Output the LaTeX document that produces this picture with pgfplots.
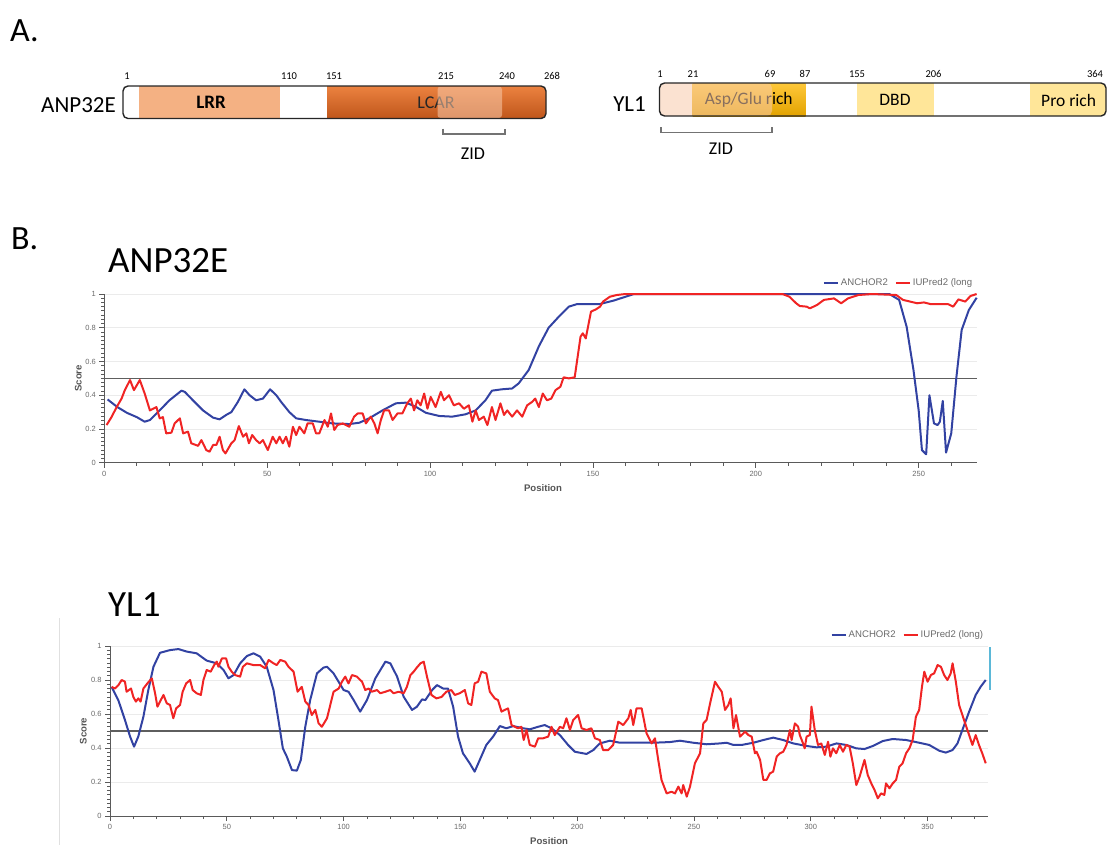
\documentclass[border=0pt]{standalone}
\usepackage{fontspec}
\setmainfont{Carlito}
\newfontfamily\arial{Liberation Sans}
\usepackage{pgfplots}
\pgfplotsset{compat=1.18}

\definecolor{ablue}{HTML}{3242A2}
\definecolor{ared}{HTML}{F02424}
\definecolor{lrr}{HTML}{F4B183}
\definecolor{lcartop}{HTML}{EC8240}
\definecolor{lcarbot}{HTML}{BF561B}
\definecolor{zidov}{HTML}{F8CBAD}
\definecolor{goldtop}{HTML}{FFC83A}
\definecolor{goldbot}{HTML}{E2A300}
\definecolor{dbd}{HTML}{FFE699}
\definecolor{tickgray}{HTML}{6A6A6A}
\definecolor{labgray}{HTML}{555555}
\definecolor{axgray}{HTML}{5A5A5A}
\definecolor{gridgray}{HTML}{EBEBEB}
\definecolor{threshold}{HTML}{5E5E5E}
\definecolor{cyanbar}{HTML}{5BB8D8}

\pgfplotsset{
 idp/.style={
  scale only axis, clip=false,
  axis lines=left, axis line style={-, draw=axgray, line width=1pt},
  ymin=0, ymax=1, xmin=0,
  ytick={0,0.2,0.4,0.6,0.8,1},
  minor y tick num=7,
  tick align=outside, major tick length=5pt, minor tick length=3pt,
  every tick/.style={draw=axgray, line width=0.8pt},
  ymajorgrids, major grid style={draw=gridgray, line width=0.8pt},
  tick label style={font=\arial\fontsize{7.5}{9}\selectfont, text=tickgray},
  /pgf/number format/assume math mode=true,
  xlabel={Position}, ylabel={Score},
  label style={font=\arial\bfseries\fontsize{9.6}{11}\selectfont, text=labgray},
  legend style={draw=none, fill=none, legend columns=-1,
    font=\arial\fontsize{9.6}{11}\selectfont, text=tickgray,
    anchor=south east, at={(axis description cs:1,1)}, yshift=3pt,
    /tikz/every even column/.append style={column sep=5pt}},
  legend image code/.code={\draw[#1] (0pt,0pt) -- (14pt,0pt);},
 },
 anchorline/.style={draw=ablue, line width=2pt, line join=round},
 iupredline/.style={draw=ared, line width=2pt, line join=round},
}

\begin{document}
\begin{tikzpicture}
\path[use as bounding box] (0pt,0pt) rectangle (1110pt,-845pt);

% ---------------- Part A and titles (pixel-like coordinates) ----------------
\begin{axis}[at={(0pt,0pt)}, anchor=north west, scale only axis,
  width=1110pt, height=845pt, xmin=0, xmax=1110, ymin=0, ymax=845,
  y dir=reverse, hide axis, clip=false]

\node[anchor=base west, inner sep=0pt, font=\fontsize{34}{40}\selectfont] at (axis cs:10,41) {A.};
\node[anchor=base west, inner sep=0pt, font=\fontsize{34}{40}\selectfont] at (axis cs:11,249) {B.};
\node[anchor=base west, inner sep=0pt, font=\fontsize{37}{44}\selectfont] at (axis cs:108,272.5) {ANP32E};
\node[anchor=base west, inner sep=0pt, font=\fontsize{37}{44}\selectfont] at (axis cs:108,616.5) {YL1};

% ---- ANP32E domain diagram ----
\node[anchor=base east, inner sep=0pt, font=\fontsize{23}{27}\selectfont] at (axis cs:116,112.5) {ANP32E};
\addplot[draw=none, fill=white] coordinates {(123,86) (546,86) (546,118.5) (123,118.5)} -- cycle;
\addplot[draw=none, fill=lrr] coordinates {(139,86) (280,86) (280,118.5) (139,118.5)} -- cycle;
\addplot[draw=none, top color=lcartop, bottom color=lcarbot, rounded corners=5pt] coordinates {(327,86) (546,86) (546,118.5) (327,118.5)} -- cycle;
\addplot[draw=none, top color=lcartop, bottom color=lcarbot] coordinates {(327,86) (500,86) (500,118.5) (327,118.5)} -- cycle;
\node[inner sep=0pt, font=\bfseries\fontsize{19}{22}\selectfont] at (axis cs:211,102.5) {LRR};
\node[inner sep=0pt, font=\fontsize{18}{22}\selectfont, text=black!85] at (axis cs:436,102.5) {LCAR};
\addplot[draw=none, fill=zidov, fill opacity=0.55, rounded corners=3pt] coordinates {(437.5,86.5) (502,86.5) (502,118) (437.5,118)} -- cycle;
\addplot[draw=black!85, line width=1.4pt, rounded corners=5pt] coordinates {(123,86) (546,86) (546,118.5) (123,118.5)} -- cycle;
\foreach \p/\t in {127/1, 289/110, 334/151, 446/215, 507/240, 552/268}{
  \edef\temp{\noexpand\node[inner sep=0pt, font=\noexpand\fontsize{10.5}{12}\noexpand\selectfont] at (axis cs:\p,75.7) {\t};}
  \temp
}
\addplot[draw=black!55, line width=1.1pt] coordinates {(443,128.5) (443,134) (505,134) (505,128.5)};
\node[inner sep=0pt, font=\fontsize{18}{22}\selectfont] at (axis cs:473,153.6) {ZID};

% ---- YL1 domain diagram ----
\node[anchor=base east, inner sep=0pt, font=\fontsize{23}{27}\selectfont] at (axis cs:646,111.5) {YL1};
\addplot[draw=none, fill=white] coordinates {(659.5,83) (1106,83) (1106,116) (659.5,116)} -- cycle;
\addplot[draw=none, top color=goldtop, bottom color=goldbot] coordinates {(692.6,83) (805.5,83) (805.5,116) (692.6,116)} -- cycle;
\addplot[draw=none, fill=dbd] coordinates {(857.4,83) (933.5,83) (933.5,116) (857.4,116)} -- cycle;
\addplot[draw=none, fill=dbd, rounded corners=5pt] coordinates {(1030,83) (1106,83) (1106,116) (1030,116)} -- cycle;
\addplot[draw=none, fill=dbd] coordinates {(1030,83) (1080,83) (1080,116) (1030,116)} -- cycle;
\node[inner sep=0pt, font=\fontsize{17.5}{21}\selectfont] at (axis cs:748.7,100) {Asp/Glu rich};
\node[inner sep=0pt, font=\fontsize{17.5}{21}\selectfont] at (axis cs:895,100) {DBD};
\node[inner sep=0pt, font=\fontsize{17.5}{21}\selectfont] at (axis cs:1068.6,100) {Pro rich};
\addplot[draw=none, fill=zidov, fill opacity=0.55, rounded corners=5pt] coordinates {(659.5,83) (772,83) (772,116) (659.5,116)} -- cycle;
\addplot[draw=black!85, line width=1.4pt, rounded corners=5pt] coordinates {(659.5,83) (1106,83) (1106,116) (659.5,116)} -- cycle;
\foreach \p/\t in {660/1, 693/21, 770/69, 805/87, 857/155, 933.5/206, 1095/364}{
  \edef\temp{\noexpand\node[inner sep=0pt, font=\noexpand\fontsize{10.5}{12}\noexpand\selectfont] at (axis cs:\p,73.7) {\t};}
  \temp
}
\addplot[draw=black!55, line width=1.1pt] coordinates {(661,127) (661,132.6) (772,132.6) (772,127)};
\node[inner sep=0pt, font=\fontsize{18}{22}\selectfont] at (axis cs:721,149) {ZID};

% ---- screenshot artefacts around the YL1 plot ----
\addplot[draw=black!12, line width=0.8pt] coordinates {(59,618) (59,845)};
\addplot[draw=cyanbar, line width=2pt] coordinates {(989.5,647) (989.5,690)};
\end{axis}

% ---------------- B: ANP32E ----------------
\begin{axis}[idp, at={(104.3pt,-462.7pt)}, anchor=south west,
  width=873pt, height=168.7pt, xmax=268,
  xtick={0,50,100,150,200,250}, minor xtick={10,20,30,40,60,70,80,90,110,120,130,140,160,170,180,190,210,220,230,240,260},
  ylabel style={at={(axis description cs:-0.0298,0.5)}, anchor=center},
  xlabel style={at={(axis description cs:0.5025,-0.148)}, anchor=center}]
\addplot[draw=threshold, line width=1.3pt, forget plot] coordinates {(0,0.5) (268,0.5)};
\addplot[anchorline] coordinates {
(1,0.375) (4,0.33) (7,0.295) (10,0.27) (12.4,0.243) (14,0.253) (17,0.31) (20,0.37) (23.7,0.427) (24.7,0.42) (27.2,0.37) (30.3,0.31) (33.4,0.267) (35.4,0.257) (37.4,0.283) (39,0.30) (41,0.36) (43,0.435) (44.6,0.40) (46.6,0.37) (48.7,0.38) (50.9,0.435) (52.8,0.40) (54.3,0.36) (56.8,0.30) (58.9,0.263) (61.9,0.253) (66,0.243) (70,0.233) (75.2,0.229) (78.3,0.237) (81.3,0.263) (85.4,0.31) (89.5,0.352) (92.6,0.356) (95.6,0.332) (98.7,0.296) (102.8,0.277) (106.8,0.273) (110.9,0.287) (114,0.31) (117,0.37) (119,0.427) (122,0.435) (125.2,0.44) (127.2,0.47) (130.3,0.55) (133.4,0.69) (136.4,0.80) (139.5,0.865) (142.6,0.925) (145.1,0.94) (147.8,0.94) (152,0.94) (156.2,0.96) (159.4,0.98) (162.6,1.0) (241,1.0) (244,0.965) (246.3,0.806) (248.4,0.55) (250,0.31) (251,0.075) (252.3,0.05) (253.3,0.40) (254.7,0.233) (255.8,0.223) (256.5,0.243) (257.4,0.366) (258.4,0.06) (260,0.174) (261.6,0.51) (263.2,0.787) (265.4,0.905) (267.8,0.978)
};
\addlegendentry{ANCHOR2}
\addplot[iupredline] coordinates {
(0.7,0.223) (2.2,0.27) (3.8,0.33) (5.3,0.38) (6.3,0.43) (7.9,0.49) (9.1,0.43) (10.9,0.49) (12.4,0.41) (14,0.31) (16,0.33) (17,0.263) (18,0.27) (19,0.174) (20.6,0.178) (21.6,0.233) (23.2,0.263) (24.2,0.174) (25.7,0.184) (26.7,0.115) (28.8,0.10) (29.8,0.134) (31.3,0.075) (32.3,0.065) (33.4,0.105) (34.4,0.105) (35.4,0.154) (36.4,0.075) (37.2,0.055) (39,0.115) (40,0.134) (41.3,0.217) (42.6,0.154) (43.6,0.174) (44.4,0.115) (45.4,0.164) (46.6,0.134) (47.7,0.115) (48.7,0.134) (50.2,0.075) (51.7,0.154) (52.8,0.115) (53.8,0.154) (54.8,0.115) (55.8,0.154) (56.8,0.095) (57.9,0.213) (58.9,0.164) (59.9,0.213) (61.4,0.174) (62.4,0.233) (64,0.233) (65,0.174) (66,0.174) (67.6,0.253) (68.6,0.213) (69.6,0.292) (70.6,0.194) (71.6,0.223) (73.2,0.233) (75.2,0.213) (76.7,0.273) (77.8,0.292) (79.3,0.292) (80.3,0.233) (81.8,0.273) (82.9,0.233) (83.9,0.174) (84.9,0.253) (85.9,0.31) (87.4,0.31) (88.5,0.253) (90,0.292) (91.5,0.292) (93,0.352) (94.1,0.38) (95.1,0.31) (96.1,0.37) (97.1,0.34) (98.2,0.41) (99.2,0.32) (100.2,0.39) (101.7,0.33) (103.3,0.42) (104.3,0.37) (105.8,0.40) (107.3,0.34) (108.9,0.352) (110.4,0.32) (111.9,0.34) (113,0.243) (114,0.31) (115,0.253) (116.5,0.273) (117.6,0.223) (119,0.33) (120.1,0.253) (121.6,0.352) (122.7,0.283) (123.7,0.31) (125.2,0.273) (126.7,0.31) (128.3,0.273) (129.8,0.34) (131.3,0.36) (132.3,0.38) (133.4,0.33) (134.6,0.41) (135.9,0.37) (137.2,0.38) (138.5,0.43) (140,0.45) (141,0.506) (142.6,0.50) (144.4,0.506) (146.2,0.747) (146.9,0.767) (147.8,0.737) (149.4,0.895) (151,0.91) (152.2,0.925) (153.1,0.955) (155.2,0.984) (157.3,0.994) (160,1.0) (208.2,1.0) (210.3,0.984) (212.4,0.945) (213.5,0.929) (215.6,0.925) (216.6,0.915) (218.8,0.935) (220.9,0.965) (224,0.974) (226.2,0.945) (228.3,0.974) (231.5,0.994) (235.7,1.0) (243.1,0.994) (245.2,0.965) (247.4,0.955) (249.5,0.945) (251.6,0.95) (253.7,0.94) (256.9,0.94) (259,0.94) (260.6,0.925) (262.2,0.968) (264.3,0.955) (265.9,0.988) (267.8,1.0)
};
\addlegendentry{IUPred2 (long}
\end{axis}

% ---------------- B: YL1 ----------------
\begin{axis}[idp, at={(110pt,-816pt)}, anchor=south west,
  width=878.3pt, height=170pt, xmax=376,
  xtick={0,50,100,150,200,250,300,350}, minor xtick={10,20,30,40,60,70,80,90,110,120,130,140,160,170,180,190,210,220,230,240,260,270,280,290,310,320,330,340,360,370},
  ylabel style={at={(axis description cs:-0.0304,0.5)}, anchor=center},
  xlabel style={at={(axis description cs:0.5,-0.145)}, anchor=center}]
\addplot[draw=threshold, line width=1.3pt, forget plot] coordinates {(0,0.5) (376,0.5)};
\addplot[anchorline] coordinates {
(0.7,0.76) (3.6,0.68) (6.4,0.565) (8.6,0.467) (10.3,0.408) (12.1,0.467) (14.3,0.584) (16.4,0.741) (18.6,0.878) (21.4,0.96) (25.7,0.976) (29.3,0.982) (32.9,0.967) (37.1,0.957) (41.4,0.914) (45.7,0.898) (48.6,0.859) (50.7,0.81) (52.9,0.829) (55.7,0.898) (58.6,0.941) (61.4,0.957) (64.3,0.937) (67.1,0.878) (70,0.741) (72.1,0.565) (74,0.398) (75.7,0.349) (77.9,0.27) (80,0.267) (81.7,0.33) (83.6,0.525) (85.7,0.682) (88.6,0.839) (91.4,0.873) (92.9,0.878) (95.7,0.839) (100,0.741) (102.1,0.731) (104.3,0.682) (107.1,0.614) (110,0.682) (113.6,0.81) (117.9,0.908) (120,0.898) (122.9,0.82) (125.7,0.702) (129.3,0.624) (131.4,0.643) (133.6,0.686) (135,0.682) (137.9,0.741) (140,0.77) (142.6,0.75) (144.7,0.75) (146.9,0.643) (149,0.467) (151.1,0.369) (154,0.31) (156.1,0.261) (158.3,0.33) (161.1,0.418) (164,0.467) (166.9,0.529) (169.7,0.516) (172.6,0.529) (176.9,0.516) (179.7,0.51) (183.3,0.525) (186.1,0.535) (189,0.516) (192.6,0.476) (196.1,0.418) (199,0.378) (204,0.365) (206.9,0.388) (209.7,0.427) (214,0.443) (218.3,0.431) (225.4,0.431) (232.6,0.431) (239.7,0.435) (244,0.443) (249.7,0.431) (255.4,0.422) (261.1,0.427) (264,0.431) (266.9,0.418) (270.4,0.418) (275.4,0.431) (279.7,0.447) (283.9,0.461) (288.2,0.447) (292.5,0.427) (298.2,0.412) (302.4,0.404) (306.7,0.408) (311,0.427) (315.2,0.418) (319.5,0.398) (323,0.394) (326.6,0.412) (330.8,0.441) (335.1,0.453) (340.8,0.447) (346.4,0.431) (350.7,0.418) (355,0.384) (357.8,0.373) (360.7,0.388) (362.8,0.427) (364.9,0.506) (367.8,0.614) (370.6,0.712) (372.7,0.76) (374.9,0.80)
};
\addlegendentry{ANCHOR2}
\addplot[iupredline] coordinates {
(0.7,0.76) (2.1,0.75) (3.6,0.77) (5,0.80) (6.4,0.79) (7.1,0.731) (9,0.75) (10,0.70) (11.1,0.673) (12.1,0.692) (13.1,0.673) (14.3,0.75) (16,0.78) (17.9,0.81) (19.3,0.722) (20.3,0.643) (21.4,0.673) (22.9,0.712) (24.3,0.663) (25.7,0.653) (27.1,0.575) (28.3,0.633) (30,0.653) (31.1,0.731) (32.6,0.78) (34.3,0.80) (35.4,0.741) (37.1,0.722) (38.9,0.712) (40,0.80) (41.4,0.859) (43.1,0.849) (44.6,0.888) (45.7,0.908) (46.4,0.878) (47.9,0.927) (49.7,0.927) (50.7,0.878) (52.1,0.849) (53.6,0.829) (55.7,0.82) (56.9,0.878) (58.6,0.898) (61.4,0.888) (64.3,0.888) (66.4,0.869) (67.9,0.918) (70,0.898) (71.4,0.888) (72.9,0.918) (75,0.908) (76.4,0.878) (78.6,0.849) (80.3,0.731) (82.1,0.76) (83.6,0.673) (85,0.653) (86.4,0.594) (87.9,0.624) (89.3,0.545) (90.7,0.525) (92.9,0.575) (94.3,0.653) (95.7,0.731) (97.9,0.75) (99.3,0.79) (100.7,0.82) (102.1,0.78) (103.6,0.829) (105.7,0.82) (107.9,0.79) (109.3,0.741) (110.7,0.75) (112.1,0.731) (114.3,0.741) (115.7,0.722) (117.9,0.731) (120,0.741) (121.4,0.722) (123.6,0.731) (125.7,0.722) (127.1,0.76) (128.6,0.829) (130,0.849) (131.1,0.869) (132.9,0.898) (134.3,0.908) (135.7,0.82) (137.6,0.712) (139.7,0.692) (141.9,0.70) (144,0.731) (146.1,0.741) (147.6,0.712) (149.7,0.722) (151.9,0.741) (153.3,0.663) (154.7,0.653) (156.1,0.78) (157.6,0.79) (159,0.849) (161.1,0.839) (162.6,0.731) (164.7,0.692) (166.1,0.682) (167.6,0.614) (169,0.624) (170.4,0.633) (171.9,0.535) (173.3,0.525) (174.7,0.516) (176.1,0.525) (177.1,0.447) (178.3,0.506) (179.7,0.418) (181.9,0.408) (183.3,0.457) (185.4,0.457) (187.6,0.467) (189,0.525) (190.4,0.476) (192.6,0.525) (194,0.516) (195.4,0.575) (196.9,0.506) (198.3,0.565) (200.4,0.594) (201.9,0.516) (204,0.506) (206.1,0.516) (207.6,0.457) (209.7,0.447) (211.1,0.388) (213.3,0.388) (215.4,0.418) (217.6,0.555) (219.7,0.535) (221.9,0.575) (222.9,0.624) (224,0.535) (225.4,0.633) (227.6,0.633) (229.7,0.486) (231.9,0.427) (233.3,0.457) (234.7,0.33) (236.1,0.212) (238.3,0.133) (240.4,0.143) (241.9,0.133) (243.3,0.173) (244.7,0.133) (245.4,0.182) (246.9,0.114) (248.3,0.173) (250.4,0.31) (252.6,0.369) (254,0.545) (255.4,0.565) (256.9,0.663) (259,0.79) (260.4,0.76) (261.9,0.731) (263.3,0.624) (264.7,0.653) (265.7,0.692) (266.9,0.516) (268,0.594) (269.7,0.467) (271.9,0.496) (273.3,0.476) (274.7,0.467) (276.1,0.369) (276.8,0.378) (278.3,0.33) (279.7,0.212) (281.1,0.212) (282.5,0.251) (283.9,0.261) (285.4,0.349) (286.8,0.369) (288.2,0.378) (289.6,0.418) (291.1,0.506) (291.8,0.447) (293.2,0.545) (294.6,0.525) (295.3,0.476) (296.7,0.427) (297.4,0.398) (298.2,0.467) (299.6,0.476) (300.3,0.643) (301.7,0.506) (303.1,0.418) (304.5,0.427) (306,0.359) (307.4,0.437) (308.4,0.349) (309.5,0.398) (310.9,0.369) (312.4,0.418) (313.8,0.378) (315.2,0.418) (316.6,0.408) (318,0.31) (319.5,0.182) (320.9,0.231) (323,0.33) (324.4,0.241) (325.9,0.192) (327.3,0.153) (328.7,0.104) (330.1,0.133) (331.5,0.124) (332.2,0.192) (333.7,0.163) (335.1,0.192) (336.5,0.212) (337.9,0.29) (339.3,0.31) (340.8,0.369) (342.2,0.398) (343.6,0.447) (345,0.584) (346.4,0.624) (347.6,0.76) (348.6,0.849) (350,0.79) (351.4,0.829) (352.8,0.839) (354.3,0.888) (355.7,0.878) (357.1,0.829) (358.5,0.80) (359.9,0.839) (360.7,0.898) (362.1,0.79) (363.5,0.653) (365.6,0.565) (367.8,0.476) (369.2,0.418) (370.6,0.476) (372,0.418) (373.4,0.369) (374.9,0.31)
};
\addlegendentry{IUPred2 (long)}
\end{axis}
\end{tikzpicture}
\end{document}
